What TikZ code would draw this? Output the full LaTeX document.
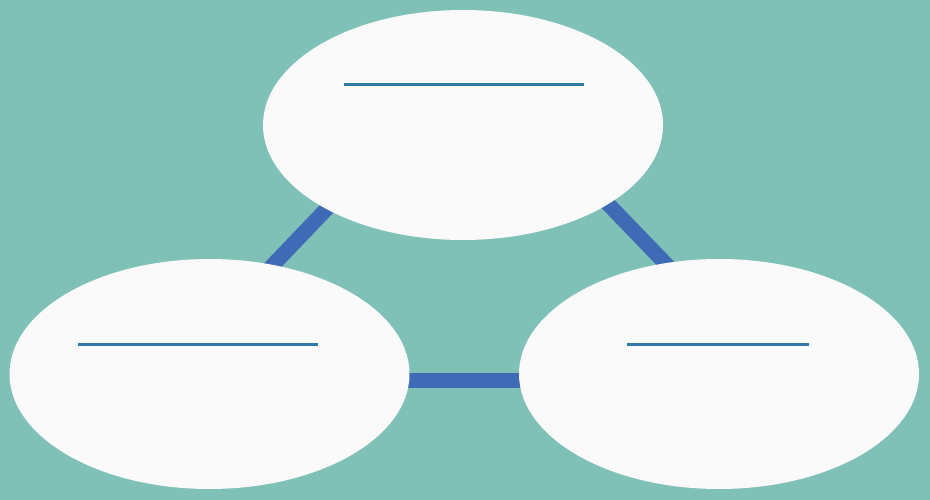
\documentclass[tikz,border=0pt]{standalone}
\usetikzlibrary{shapes.geometric}
\definecolor{bgteal}{HTML}{7FC1B7}
\definecolor{ovalfill}{HTML}{FAFAFA}
\definecolor{linkblue}{HTML}{3F6BB6}
\definecolor{ruleblue}{HTML}{2C79AA}
\tikzset{
  oval/.style={ellipse, fill=ovalfill, draw=none, minimum width=400pt, minimum height=230pt, inner sep=0pt},
  link/.style={draw=linkblue, line width=15pt},
  rule/.style={draw=ruleblue, line width=3pt}
}
\begin{document}
\begin{tikzpicture}[x=1pt,y=-1pt]
\fill[bgteal] (0,0) rectangle (930,500);
\useasboundingbox (0,0) rectangle (930,500);
% triangle vertices (hidden behind the ovals)
\coordinate (apex) at (469,60);
\coordinate (bl) at (163,380);
\coordinate (br) at (778,380);
\draw[link] (apex) -- (bl);
\draw[link] (apex) -- (br);
\draw[link] (bl) -- (br);
% ovals
\node[oval] (top) at (463,125) {};
\node[oval] (left) at (209.5,374) {};
\node[oval] (right) at (719,374) {};
% blank rules
\coordinate (t1) at (344,85);  \coordinate (t2) at (584,85);
\coordinate (l1) at (78,344);  \coordinate (l2) at (318,344);
\coordinate (r1) at (627,344); \coordinate (r2) at (809,344);
\draw[rule] (t1) -- (t2);
\draw[rule] (l1) -- (l2);
\draw[rule] (r1) -- (r2);
\end{tikzpicture}
\end{document}
